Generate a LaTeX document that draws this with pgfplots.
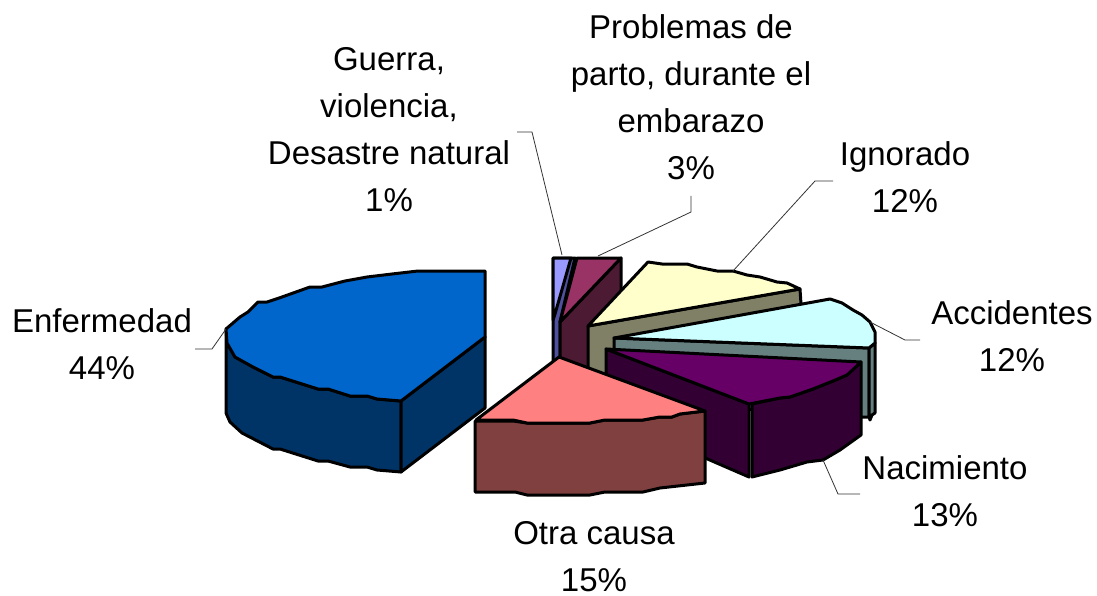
\documentclass[border=0pt]{standalone}
\usepackage{pgfplots}
\pgfplotsset{compat=1.18}
\usepackage{fontspec}
\setmainfont{Liberation Sans}
\definecolor{blueT}{HTML}{0066CC}\definecolor{blueS}{HTML}{003366}
\definecolor{salT}{HTML}{FF8080}\definecolor{salS}{HTML}{804040}
\definecolor{purT}{HTML}{660066}\definecolor{purS}{HTML}{330033}
\definecolor{cyaT}{HTML}{CCFFFF}\definecolor{cyaS}{HTML}{668080}
\definecolor{creT}{HTML}{FFFFCC}\definecolor{creS}{HTML}{808066}
\definecolor{marT}{HTML}{993366}\definecolor{marS}{HTML}{4D1A33}
\definecolor{vioT}{HTML}{9999FF}\definecolor{vioS}{HTML}{5050A0}
\tikzset{
  pie/.style={draw=black,line width=3pt,line join=round,mark=none,fill=#1},
  lead/.style={draw=black!80,line width=0.8pt,mark=none},
  lab/.style={align=center,inner sep=0pt,font=\fontsize{33}{47}\selectfont}
}
\begin{document}
\begin{tikzpicture}
\begin{axis}[scale only axis,width=1097pt,height=596pt,hide axis,
  xmin=0,xmax=1097,ymin=0,ymax=596,y dir=reverse,clip=false]
% Guerra
\addplot[pie=vioS] coordinates {(553,258)(575,258)(560,322)(560,365)(553,365)} --cycle;
\addplot[pie=vioT] coordinates {(553,258)(571,258)(555,314)(553,320)} --cycle;
% Problemas
\addplot[pie=marS] coordinates {(560,322)(621,258)(621,350)(560,385)} --cycle;
\addplot[pie=marT] coordinates {(577,258)(621,258)(560,322)} --cycle;
% Ignorado
\addplot[pie=creS] coordinates {(588,326)(800,289)(801,304)(801,345)(588,385)} --cycle;
\addplot[pie=creT] coordinates {(588,326)(648,262)(662,264)(687,264)(697,267)(717,271)(733,271)(747,275)(760,277)(777,282)(787,283)(800,289)} --cycle;
% Accidentes
\addplot[pie=cyaS] coordinates {(614,338)(869,348)(869,417)(861,417)(614,400)} --cycle;
\addplot[pie=cyaS] coordinates {(869,348)(875,343)(875,413)(872,415)(870,420)(869,417)} --cycle;
\addplot[pie=cyaT] coordinates {(614,338)(830,299)(842,303)(853,310)(862,315)(870,322)(873,328)(875,332)(875,343)(869,348)} --cycle;
% Nacimiento
\addplot[pie=purS] coordinates {(606,349)(749,404)(749,477)(606,415)} --cycle;
\addplot[pie=purS] coordinates {(752,404)(780,398)(790,397)(813,389)(833,381)(847,375)(861,362)(861,435)(840,450)(823,460)(807,462)(780,470)(752,477)} --cycle;
\addplot[pie=purT] coordinates {(606,349)(861,362)(847,375)(833,381)(813,389)(790,397)(780,398)(749,404)} --cycle;
% Otra causa
\addplot[pie=salS] coordinates {(475,421)(513,421)(527,423)(590,423)(605,420)(643,420)(660,417)(672,417)(680,414)(705,411)(705,483)(678,486)(660,488)(643,492)(605,492)(590,495)(527,495)(515,492)(475,492)} --cycle;
\addplot[pie=salT] coordinates {(559,357)(705,411)(680,414)(672,417)(660,417)(643,420)(605,420)(590,423)(527,423)(513,420)(476,420)} --cycle;
% Enfermedad
\addplot[pie=blueS] coordinates {(226,329)(227,343)(235,357)(253,367)(273,377)(280,377)(318,389)(328,389)(350,396)(367,396)(377,399)(401,401)(401,472)(377,470)(367,467)(350,467)(328,461)(318,461)(280,449)(273,449)(242,433)(230,422)(226,413)} --cycle;
\addplot[pie=blueS] coordinates {(401,401)(485,337)(485,408)(401,472)} --cycle;
\addplot[pie=blueT] coordinates {(485,271)(418,271)(392,274)(367,277)(345,281)(322,287)(310,287)(282,297)(267,302)(258,302)(248,312)(240,317)(226,329)(227,343)(235,357)(253,367)(273,377)(280,377)(318,389)(328,389)(350,396)(367,396)(377,399)(401,401)(485,337)} --cycle;
% leaders
\addplot[lead] coordinates {(195,349)(212,349)(226,329)};
\addplot[lead] coordinates {(517,132)(532,132)(562,255)};
\addplot[lead] coordinates {(691,196)(691,212)(598,256)};
\addplot[lead] coordinates {(833,181)(815,181)(733,271)};
\addplot[lead] coordinates {(870,322)(905,340)(920,340)};
\addplot[lead] coordinates {(823,460)(838,494)(860,494)};
% labels
\node[lab] at (axis cs:389,130) {Guerra,\\violencia,\\Desastre natural\\1\%};
\node[lab] at (axis cs:691,97) {Problemas de\\parto, durante el\\embarazo\\3\%};
\node[lab] at (axis cs:905,177) {Ignorado\\12\%};
\node[lab] at (axis cs:1012,336) {Accidentes\\12\%};
\node[lab] at (axis cs:945,491) {Nacimiento\\13\%};
\node[lab] at (axis cs:594,557) {Otra causa\\15\%};
\node[lab] at (axis cs:102,344) {Enfermedad\\44\%};
\end{axis}
\pgfresetboundingbox
\path (current axis.south west) rectangle (current axis.north east);
\end{tikzpicture}
\end{document}
